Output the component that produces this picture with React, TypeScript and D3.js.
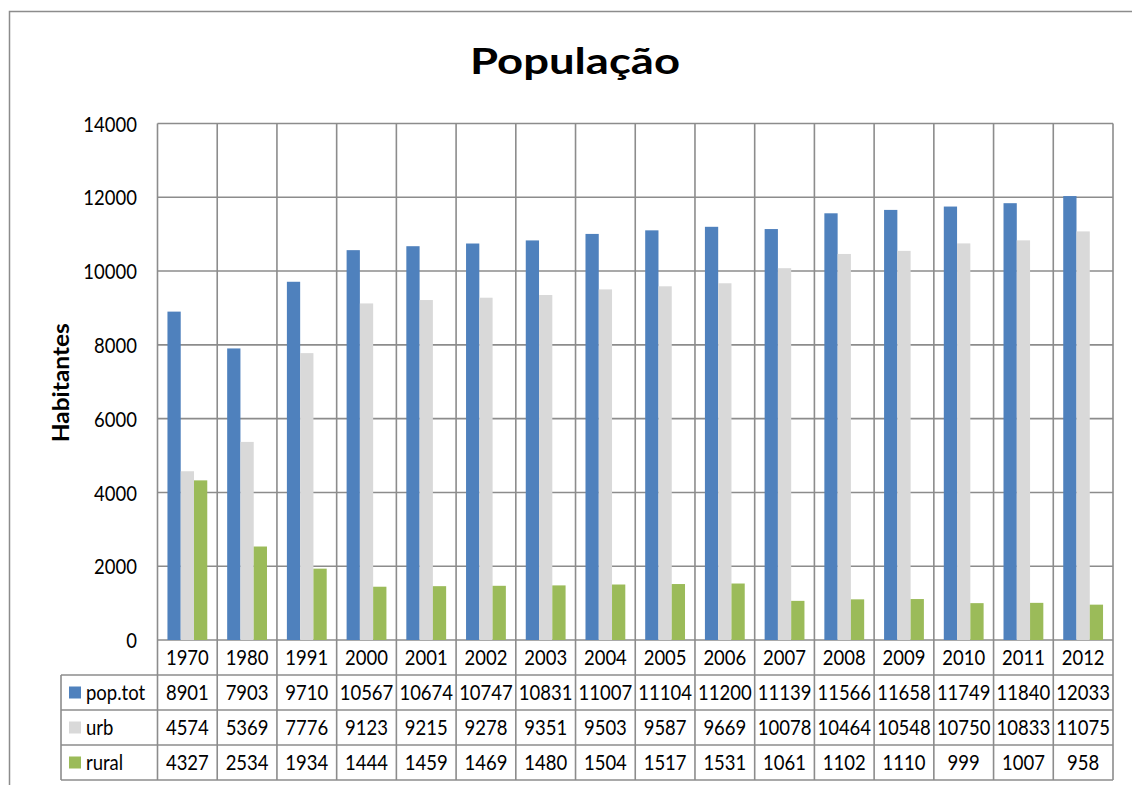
import React from 'react'
import * as d3 from 'd3'

const years = ['1970', '1980', '1991', '2000', '2001', '2002', '2003', '2004', '2005', '2006', '2007', '2008', '2009', '2010', '2011', '2012']
const popTot = [8901, 7903, 9710, 10567, 10674, 10747, 10831, 11007, 11104, 11200, 11139, 11566, 11658, 11749, 11840, 12033]
const urb = [4574, 5369, 7776, 9123, 9215, 9278, 9351, 9503, 9587, 9669, 10078, 10464, 10548, 10750, 10833, 11075]
const rural = [4327, 2534, 1934, 1444, 1459, 1469, 1480, 1504, 1517, 1531, 1061, 1102, 1110, 999, 1007, 958]
const seriesNames = ['pop.tot', 'urb', 'rural']
const yTicks = [0, 2000, 4000, 6000, 8000, 10000, 12000, 14000]

const colors = ['#4f81bd', '#d9d9d9', '#9bbb59']
const font = 'Lato, Calibri, sans-serif'
const gridColor = '#8c8c8c'

export default function App() {
  const W = 1132
  const H = 785
  const left = 157.5
  const right = 1113
  const top = 123.5
  const bottom = 640
  const tableLeft = 61
  const rowEdges = [640, 675, 710, 745, 780]
  const fs = 18.5

  const series = [popTot, urb, rural]

  const x = d3.scaleBand<string>().domain(years).range([left, right]).padding(0)
  const inner = d3
    .scaleBand<string>()
    .domain(seriesNames)
    .range([0, x.bandwidth()])
    .paddingInner(0)
    .paddingOuter(0.75)
  const y = d3.scaleLinear().domain([0, 14000]).range([bottom, top])

  // slight vertical stretch so the digits get the reference's height
  const label = (key: string | number, tx: number, ty: number, s: string | number, anchor = 'middle') => (
    <text key={key} transform={`translate(${tx}, ${ty}) scale(1, 1.1)`} dy="0.35em" textAnchor={anchor} fontSize={fs} fill="#000">
      {s}
    </text>
  )

  return (
    <svg
      width={W}
      height={H}
      style={{ position: 'absolute', left: 0, top: 0, background: '#fff' }}
      fontFamily={font}
    >
      <rect x={9.5} y={11.5} width={1130} height={800} fill="#fff" stroke={gridColor} strokeWidth={1.5} />

      <text x={575} y={74} textAnchor="middle" fontSize={37} fontWeight="bold" fill="#000"
        textLength={210} lengthAdjust="spacingAndGlyphs">
        População
      </text>

      {/* grid */}
      {yTicks.map((t) => (
        <line key={'h' + t} x1={left} x2={right} y1={y(t)} y2={y(t)} stroke={gridColor} strokeWidth={1.6} />
      ))}
      {years.concat(['end']).map((yr, i) => {
        const xx = i < years.length ? x(yr)! : right
        return <line key={'v' + i} x1={xx} x2={xx} y1={top} y2={rowEdges[4]} stroke={gridColor} strokeWidth={1.6} />
      })}

      {/* bars */}
      {series.map((vals, si) =>
        vals.map((v, i) => (
          <rect
            key={si + '-' + i}
            x={x(years[i])! + inner(seriesNames[si])!}
            y={y(v)}
            width={inner.bandwidth()}
            height={bottom - y(v)}
            fill={colors[si]}
          />
        ))
      )}

      {/* y ticks */}
      {yTicks.map((t) => label('t' + t, 137, y(t) + 1, t, 'end'))}

      <text
        transform={`translate(69, ${(top + bottom) / 2 + 1}) rotate(-90)`}
        textAnchor="middle"
        fontSize={22}
        fontWeight="bold"
        fill="#000"
        textLength={119}
        lengthAdjust="spacingAndGlyphs"
      >
        Habitantes
      </text>

      {/* data table */}
      {rowEdges.slice(1).map((ry, i) => (
        <line key={'r' + i} x1={tableLeft} x2={right} y1={ry} y2={ry} stroke={gridColor} strokeWidth={1.6} />
      ))}
      <line x1={tableLeft} x2={tableLeft} y1={rowEdges[1]} y2={rowEdges[4]} stroke={gridColor} strokeWidth={1.6} />

      {years.map((yr) => label('c' + yr, x(yr)! + x.bandwidth() / 2, (rowEdges[0] + rowEdges[1]) / 2, yr))}

      {series.map((vals, si) => {
        const cy = (rowEdges[si + 1] + rowEdges[si + 2]) / 2
        return (
          <g key={'row' + si}>
            <rect x={69} y={cy - 6} width={12} height={12} fill={colors[si]} />
            {label('n' + si, 86, cy, seriesNames[si], 'start')}
            {vals.map((v, i) => label(i, x(years[i])! + x.bandwidth() / 2, cy, v))}
          </g>
        )
      })}
    </svg>
  )
}
